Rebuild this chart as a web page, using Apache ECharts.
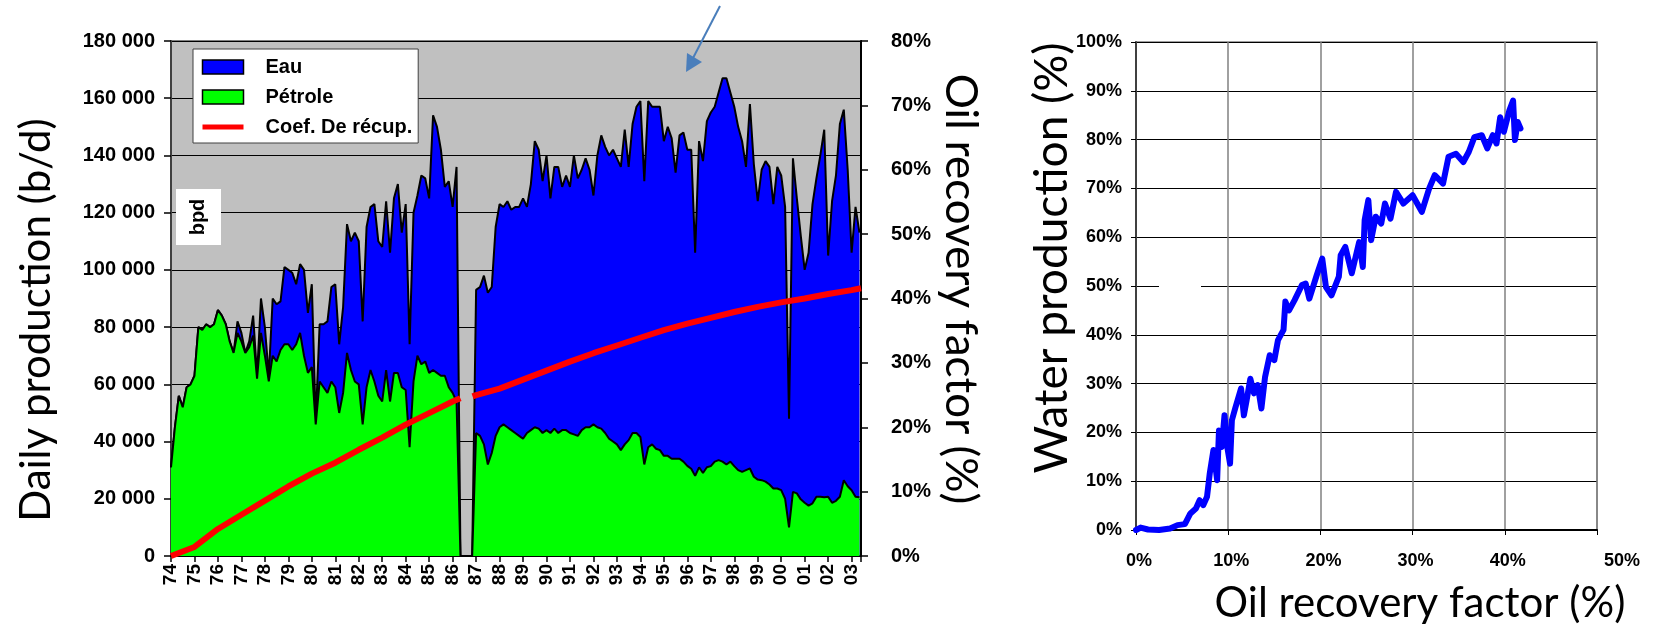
<!DOCTYPE html>
<html>
<head>
<meta charset="utf-8">
<script src="https://cdn.jsdelivr.net/npm/echarts/dist/echarts.min.js"></script>
<style>
  html, body { margin: 0; padding: 0; background: #ffffff; }
  #chart { width: 1674px; height: 625px; }
</style>
</head>
<body>
<div id="chart"></div>
<script>
// production, thousand b/d, one value every 2 months starting in 1974
let yearStart = 74;
let stepsPerYear = 6;

let totalProd = [
  31, 45, 56, 52, 59, 60, 63, 80, 79, 81, 80, 81,
  86, 84, 81, 75, 71, 82, 78, 71, 75, 84, 63, 90,
  80, 63, 90, 88, 89, 101, 100, 99, 95, 102, 100, 85,
  95, 47, 81, 81, 82, 94, 95, 74, 87, 116, 110, 113,
  110, 82, 115, 122, 123, 110, 108, 124, 106, 125, 130, 113,
  123, 74, 120, 126, 133, 132, 125, 154, 150, 142, 129, 131,
  122, 136, 0, 0, 0, 0, 93, 94, 98, 92, 94, 115,
  123, 122, 124, 121, 122, 122, 125, 122, 130, 145, 142, 131,
  140, 125, 136, 136, 129, 133, 129, 140, 132, 135, 139, 135,
  126, 140, 147, 143, 140, 142, 139, 136, 149, 136, 151, 157,
  159, 131, 159, 157, 157, 157, 145, 150, 146, 134, 147, 148,
  142, 142, 106, 145, 138, 152, 155, 157, 162, 167, 167, 162,
  157, 150, 145, 136, 158, 137, 124, 135, 138, 136, 123, 136,
  133, 122, 48, 139, 125, 112, 100, 106, 123, 132, 140, 149,
  105, 124, 133, 151, 156, 135, 106, 122, 113
];

let oilProd = [
  31, 45, 56, 52, 59, 60, 63, 80, 79, 81, 80, 81,
  86, 84, 81, 75, 71, 78, 75, 71, 73, 77, 62, 78,
  70, 61, 70, 68, 72, 74, 74, 72, 74, 78, 70, 64,
  66, 46, 61, 59, 57, 61, 59, 50, 57, 71, 65, 61,
  60, 46, 59, 65, 61, 56, 54, 65, 54, 64, 64, 59,
  58, 38, 61, 70, 67, 68, 64, 65, 64, 63, 63, 59,
  57, 54, 0, 0, 0, 0, 43, 42, 39, 32, 36, 42,
  45, 46, 45, 44, 43, 42, 41, 43, 44, 45, 44.5, 43,
  44, 43, 44.5, 43, 44, 44, 43, 42.5, 42, 44, 45, 45,
  46, 45, 44.5, 43, 41, 40, 39, 37, 39, 40.5, 43, 43,
  41.6, 32, 38, 39, 37.5, 37, 35, 35, 34, 34, 34, 33,
  31.5, 30.5, 28, 31, 29, 31, 31.4, 33, 33.5, 33, 32, 33,
  31.4, 30, 29.4, 30, 30.6, 27.7, 26.7, 26.5, 26, 25, 23.6, 23.6,
  23, 20, 10, 22.4, 21.9, 19.8, 18.6, 17.6, 18.4, 20.7, 20.7, 20.5,
  20.7, 18.6, 19.3, 20.7, 26.5, 24.4, 23, 20.7, 20.5
];

// oil recovery factor (%), right axis of the left chart
let recYears = [74, 75, 76, 77, 78, 79, 80, 81, 82, 83, 84, 85, 86, 86.33, 86.6, 86.85,
  87, 88, 89, 90, 91, 92, 93, 94, 95, 96, 97, 98, 99, 100, 101, 102, 103, 103.4];
let recPct = [0, 1.4, 4.2, 6.4, 8.6, 10.8, 12.8, 14.5, 16.5, 18.4, 20.4, 22.2, 24.0, 24.5, null, 24.8,
  25.0, 26.0, 27.4, 28.8, 30.2, 31.5, 32.7, 33.9, 35.1, 36.1, 37.0, 37.9, 38.7, 39.4, 40.0, 40.7, 41.3, 41.6];

// right chart: water production vs oil recovery factor
let rfPct = [0, 0.5, 1.3, 2.5, 3.7, 4.5, 5.3, 5.9, 6.5, 6.9, 7.3, 7.7, 8.0, 8.4, 8.8, 9.0, 9.3, 9.6, 9.9, 10.2,
  10.4, 10.8, 11.4, 11.7, 12.0, 12.4, 12.8, 13.2, 13.6, 14.0, 14.5, 15.0, 15.4, 16.0, 16.2, 16.6, 17.2, 18.0, 18.4, 18.8,
  19.6, 20.2, 20.6, 21.2, 22.0, 22.2, 22.7, 23.4, 24.2, 24.6, 24.8, 25.2, 25.5, 26.0, 26.6, 27.0, 27.6, 28.2, 29.0, 30.0,
  31.0, 31.8, 32.4, 33.3, 33.9, 34.7, 35.5, 36.1, 36.7, 37.5, 38.1, 38.7, 39.1, 39.5, 39.9, 40.5, 40.9, 41.1, 41.4, 41.7];
let wcPct = [0, 0.5, 0.1, 0, 0.3, 1.0, 1.2, 3.4, 4.4, 6.1, 5.1, 6.8, 11.6, 16.4, 10.2, 20.4, 17.0, 23.5, 17.0, 13.6,
  22.5, 25.2, 29.0, 23.5, 26.6, 31.0, 28.0, 29.7, 24.9, 31.4, 35.8, 34.8, 38.9, 41.0, 46.8, 45.0, 47.1, 50.2, 50.5, 47.4,
  52.2, 55.6, 49.8, 48.1, 51.9, 56.3, 58.0, 52.6, 59.0, 53.9, 63.5, 67.6, 59.4, 64.2, 62.8, 66.9, 63.8, 69.3, 66.9, 68.6,
  65.2, 70.0, 72.7, 71.0, 76.5, 77.1, 75.4, 77.5, 80.5, 80.9, 78.2, 80.9, 79.2, 84.6, 81.6, 86.0, 88.0, 79.9, 83.6, 82.3];

let C = {};
let V = {};

C.toTimeSeries = function(arr){
  return arr.map((v, i) => [yearStart + i / stepsPerYear, v]);
}

V.boldFont = { fontFamily: 'Liberation Sans, Arial', fontWeight: 'bold', color: '#000' };

V.title = function(text, x, y, rotation, size){
  return {
    type: 'text', x: x, y: y, rotation: rotation, z: 100,
    style: {
      text: text, fill: '#000', font: size + 'px Lato',
      align: 'center', verticalAlign: 'middle',
      textAlign: 'center', textVerticalAlign: 'middle'
    }
  };
}

V.render = function(){
  let dom = document.querySelector('#chart');
  let myChart = echarts.init(dom, null, { renderer: 'canvas' });

  let option = {
    animation: false,
    backgroundColor: '#ffffff',
    grid: [
      { left: 171, top: 41, width: 690, height: 515, show: true, backgroundColor: '#c0c0c0',
        borderColor: '#808080', borderWidth: 2, outerBoundsMode: 'none' },
      { left: 1136, top: 42, width: 461, height: 488, show: true, backgroundColor: '#ffffff',
        borderColor: '#808080', borderWidth: 1.5, outerBoundsMode: 'none' }
    ],
    legend: {
      left: 193, top: 49, orient: 'vertical',
      backgroundColor: '#ffffff', borderColor: '#404040', borderWidth: 1,
      padding: [7, 6, 5, 7], itemGap: 8, itemWidth: 41, itemHeight: 14,
      selectedMode: false,
      textStyle: Object.assign({ fontSize: 20, lineHeight: 22, padding: [0, 0, 0, 17] }, V.boldFont),
      data: [
        { name: 'Eau', icon: 'rect', itemStyle: { borderColor: '#000', borderWidth: 1.5 } },
        { name: 'Pétrole', icon: 'rect', itemStyle: { borderColor: '#000', borderWidth: 1.5 } },
        { name: 'Coef. De récup.', lineStyle: { width: 5 }, itemStyle: { opacity: 0, borderWidth: 0 } }
      ]
    },
    xAxis: [
      {
        type: 'value', gridIndex: 0, min: 74, max: 103.4, interval: 1,
        splitLine: { show: false },
        axisLine: { show: true, onZero: false, lineStyle: { color: '#000', width: 2 } },
        axisTick: { show: true, length: 6, lineStyle: { color: '#000', width: 1.5 } },
        axisLabel: Object.assign({
          rotate: 90, margin: 8, fontSize: 19,
          formatter: v => Number.isInteger(v) ? String(v % 100).padStart(2, '0') : ''
        }, V.boldFont)
      },
      {
        type: 'value', gridIndex: 1, min: 0, max: 50, interval: 10,
        splitLine: { show: true, lineStyle: { color: '#808080', width: 1.5 } },
        axisLine: { show: true, onZero: false, lineStyle: { color: '#000', width: 2 } },
        axisTick: { show: true, length: 5, lineStyle: { color: '#000' } },
        axisLabel: Object.assign({
          margin: 22, fontSize: 18, padding: [0, 0, 0, 6],
          formatter: v => v === 50 ? '{far|50%}' : v + '%',
          rich: { far: Object.assign({ fontSize: 18, padding: [0, 0, 0, 44] }, V.boldFont) }
        }, V.boldFont)
      }
    ],
    yAxis: [
      {
        type: 'value', gridIndex: 0, position: 'left', min: 0, max: 180, interval: 20,
        splitLine: { show: true, lineStyle: { color: '#000', width: 1 } },
        axisLine: { show: true, lineStyle: { color: '#404040', width: 2 } },
        axisTick: { show: true, length: 7, lineStyle: { color: '#000', width: 1.5 } },
        axisLabel: Object.assign({ margin: 16, fontSize: 20,
          formatter: v => v === 0 ? '0' : v + ' 000' }, V.boldFont)
      },
      {
        type: 'value', gridIndex: 0, position: 'right', min: 0, max: 80, interval: 10,
        splitLine: { show: false },
        axisLine: { show: true, lineStyle: { color: '#000', width: 2 } },
        axisTick: { show: true, length: 7, lineStyle: { color: '#000', width: 1.5 } },
        axisLabel: Object.assign({ margin: 30, fontSize: 20, formatter: '{value}%' }, V.boldFont)
      },
      {
        type: 'value', gridIndex: 1, min: 0, max: 100, interval: 10,
        splitLine: { show: true, lineStyle: { color: '#000', width: 1 } },
        axisLine: { show: true, lineStyle: { color: '#404040', width: 2 } },
        axisTick: { show: true, length: 5, lineStyle: { color: '#000' } },
        axisLabel: Object.assign({ margin: 14, fontSize: 18, formatter: '{value}%' }, V.boldFont)
      }
    ],
    series: [
      {
        name: 'Eau', type: 'line', xAxisIndex: 0, yAxisIndex: 0,
        data: C.toTimeSeries(totalProd), symbol: 'none', z: 2,
        color: '#0000ff',
        lineStyle: { color: '#000', width: 2 },
        areaStyle: { color: '#0000ff', opacity: 1 }
      },
      {
        name: 'Pétrole', type: 'line', xAxisIndex: 0, yAxisIndex: 0,
        data: C.toTimeSeries(oilProd), symbol: 'none', z: 3,
        color: '#00ff00',
        lineStyle: { color: '#000', width: 2 },
        areaStyle: { color: '#00ff00', opacity: 1 }
      },
      {
        name: 'Coef. De récup.', type: 'line', xAxisIndex: 0, yAxisIndex: 1,
        data: recYears.map((y, i) => [y, recPct[i] === null ? '-' : recPct[i]]),
        symbol: 'none', z: 4, color: '#ff0000',
        lineStyle: { color: '#ff0000', width: 6 }
      },
      {
        name: 'Water cut', type: 'line', xAxisIndex: 1, yAxisIndex: 2,
        data: rfPct.map((x, i) => [x, wcPct[i]]),
        symbol: 'none', z: 4, color: '#0000ff',
        lineStyle: { color: '#0000ff', width: 6, join: 'round', cap: 'round' }
      }
    ],
    graphic: [
      // 'bpd' box
      { type: 'rect', z: 100, shape: { x: 176, y: 189, width: 45, height: 56 }, style: { fill: '#ffffff' } },
      { type: 'text', z: 101, x: 198, y: 217, rotation: Math.PI / 2,
        style: { text: 'bpd', fill: '#000', font: 'bold 20px "Liberation Sans"',
          align: 'center', verticalAlign: 'middle', textAlign: 'center', textVerticalAlign: 'middle' } },
      // arrow
      { type: 'line', z: 100, shape: { x1: 720, y1: 6, x2: 692, y2: 60 }, style: { stroke: '#4a7ebb', lineWidth: 2 } },
      { type: 'polygon', z: 100, shape: { points: [[686, 72], [687, 53], [702, 62]] }, style: { fill: '#4a7ebb' } },
      // small break in the 50% line of the right chart
      { type: 'rect', z: 100, shape: { x: 1159, y: 284, width: 42, height: 4 }, style: { fill: '#ffffff' } },
      V.title('Daily production (b/d)', 36, 320, Math.PI / 2, 42),
      V.title('Oil recovery factor (%)', 960, 289, -Math.PI / 2, 44),
      V.title('Water production (%)', 1052, 258, Math.PI / 2, 46),
      V.title('Oil recovery factor (%)', 1420, 603, 0, 42)
    ]
  };

  myChart.setOption(option);
  window.addEventListener('resize', myChart.resize);
}

V.render();
</script>
</body>
</html>
